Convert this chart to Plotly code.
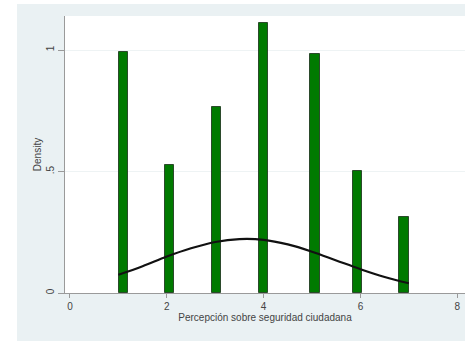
import plotly.graph_objects as go

# Histogram bars (Stata density histogram, discrete values 1..7)
bin_centers = [1.10, 2.06, 3.03, 4.00, 5.06, 5.94, 6.90]
densities = [0.99, 0.528, 0.767, 1.11, 0.982, 0.503, 0.311]
bin_width = 0.19

# Normal density overlay
curve_x = [1.0, 1.5, 2.0, 2.5, 3.0, 3.5, 4.0, 4.5, 5.0, 5.5, 6.0, 6.5, 7.0]
curve_y = [0.075, 0.110, 0.150, 0.184, 0.210, 0.222, 0.219, 0.200, 0.170, 0.134, 0.098, 0.066, 0.040]

x_ticks = [0, 2, 4, 6, 8]
y_ticks = [0, 0.5, 1]
y_tick_text = ["0", ".5", "1"]

x_title = "Percepción sobre seguridad ciudadana"
y_title = "Density"

W, H = 465, 341
ML, MR, MT, MB = 65, 0, 16, 48
PW, PH = W - ML - MR, H - MT - MB

fig = go.Figure()
fig.add_trace(go.Bar(
    x=bin_centers, y=densities, width=bin_width,
    marker=dict(color="#007a00", line=dict(color="#2b4a2b", width=1)),
    showlegend=False, hoverinfo="skip",
))
fig.add_trace(go.Scatter(
    x=curve_x, y=curve_y, mode="lines", line=dict(color="#111111", width=2.2, shape="spline"),
    showlegend=False, hoverinfo="skip",
))

font = dict(family="Liberation Sans, Arial, sans-serif", size=10, color="#444444")

# white strips outside the Stata graph region (left and top)
shapes = [
    dict(type="rect", xref="paper", yref="paper",
         x0=-ML / PW, x1=(17 - ML) / PW, y0=-MB / PH, y1=(PH + MT) / PH,
         fillcolor="white", line=dict(width=0), layer="below"),
    dict(type="rect", xref="paper", yref="paper",
         x0=-ML / PW, x1=1, y0=(PH + MT - 4) / PH, y1=(PH + MT) / PH,
         fillcolor="white", line=dict(width=0), layer="below"),
]

fig.update_layout(
    width=W, height=H,
    margin=dict(l=ML, r=MR, t=MT, b=MB),
    paper_bgcolor="#eaf1f3",
    plot_bgcolor="white",
    font=font,
    bargap=0,
    shapes=shapes,
    xaxis=dict(
        range=[-0.103, 8.16], tickvals=x_ticks, ticks="outside", ticklen=4,
        tickcolor="#9a9a9a", showline=True, linecolor="#9a9a9a", linewidth=1,
        showgrid=False, zeroline=False, tickfont=font,
        title=dict(text=x_title, font=font, standoff=2),
    ),
    yaxis=dict(
        range=[0, 1.14], tickvals=y_ticks, ticktext=y_tick_text, ticks="outside",
        ticklen=6, tickcolor="#9a9a9a", showline=True, linecolor="#9a9a9a", linewidth=1,
        showgrid=True, gridcolor="#eef3f4", gridwidth=1, zeroline=False,
        tickangle=-90, tickfont=font,
        title=dict(text=y_title, font=font, standoff=1),
    ),
)

fig.write_html("out.html")
